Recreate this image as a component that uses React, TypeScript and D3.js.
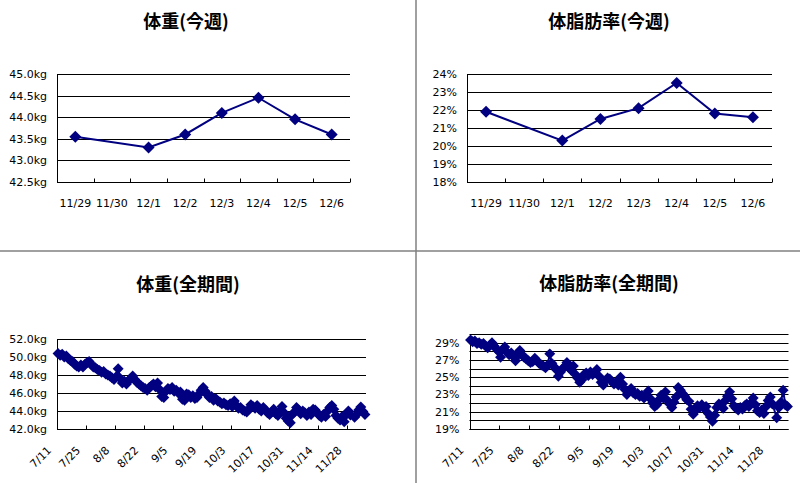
import React, { useEffect, useRef } from "react";
import * as d3 from "d3";

// this week
const weekDays = ["11/29", "11/30", "12/1", "12/2", "12/3", "12/4", "12/5", "12/6"];
const weekWeight = [43.55, null, 43.3, 43.6, 44.1, 44.45, 43.95, 43.6];
const weekFat = [21.9, null, 20.3, 21.5, 22.1, 23.5, 21.8, 21.6];

const weekWeightTicks = [42.5, 43, 43.5, 44, 44.5, 45];
const weekFatTicks = [18, 19, 20, 21, 22, 23, 24];

// whole period, one value per day from 7/11 to 12/6
const allWeight = [
  50.4, 50.2, 50.3, 50.0, 50.1, 49.8, 49.6, 49.5, 49.2, 49.0,
  48.9, 49.1, 48.9, 49.2, 49.4, 49.5, 49.2, 48.9, 48.8, 48.6,
  48.5, 48.3, 48.4, 48.1, 48.0, 47.9, 47.7, 47.5, 47.8, 48.7,
  47.6, 47.1, 47.3, 47.0, 47.4, 47.6, 47.9, 47.5, 47.2, 47.0,
  46.8, 46.6, 46.5, 46.3, 46.6, 46.8, 47.0, 46.7, 47.1, 46.4,
  45.6, 45.5, 46.2, 46.5, 46.4, 46.6, 46.2, 46.3, 46.0, 46.1,
  45.3, 45.2, 45.9, 45.8, 45.5, 45.7, 45.4, 45.5, 45.9, 46.3,
  46.6, 46.2, 45.8, 45.5, 45.6, 45.2, 45.4, 45.1, 45.0, 44.8,
  44.9, 44.7, 44.6, 44.8, 44.5, 45.1, 44.6, 44.3, 44.4, 44.1,
  44.0, 43.9, 44.2, 44.7, 44.5, 44.3, 44.6, 44.2, 44.0, 44.4,
  44.1, 43.8, 43.6, 43.9, 44.2, 43.7, 43.5, 44.0, 44.5, 43.8,
  43.2, 42.9, 42.7, 43.6, 43.9, 44.4, 44.1, 43.7, 44.0, 43.8,
  43.5, 43.9, 43.6, 44.2, 44.1, 43.8, 43.5, 43.3, 43.6, 43.4,
  44.0, 44.4, 44.6, 44.2, 43.5, 43.2, 43.0, 43.4, 42.8, 43.6,
  44.0, 43.55, null, 43.3, 43.6, 44.1, 44.45, 43.95, 43.6,
];

const allFat = [
  29.3, 29.1, 29.2, 28.9, 29.0, 28.8, 28.9, 28.6, 28.4, 28.7,
  29.0, 28.6, 28.3, 28.0, 27.3, 28.2, 28.5, 27.9, 27.6, 27.8,
  27.4, 26.9, 27.5, 28.1, 27.6, 27.3, 27.1, 26.9, 26.7, 26.8,
  27.2, 26.9, 26.6, 26.4, 26.3, 26.1, 26.4, 27.7, 26.6, 26.2,
  25.9, 25.1, 25.6, 26.0, 26.2, 26.7, 26.1, 25.8, 26.3, 25.3,
  24.9, 24.4, 24.7, 25.3, 25.5, 25.2, 25.6, 25.3, 25.5, 25.9,
  25.1, 24.4, 24.1, 24.6, 24.9, 24.8, 24.5, 24.2, 24.4, 24.1,
  25.0, 24.2, 23.6, 23.0, 23.4, 23.7, 23.2, 23.0, 23.1, 22.8,
  22.9, 22.6, 23.0, 23.4, 22.5, 22.0, 21.6, 21.8, 22.4, 22.9,
  22.6, 23.3, 22.3, 21.9, 21.5, 22.1, 22.7, 23.8, 23.5, 23.1,
  22.8, 22.4, 22.2, 21.3, 20.7, 21.1, 21.7, 21.5, 21.8, 21.4,
  21.6, 20.8, 20.4, 19.9, 20.6, 21.5, 21.9, 21.7, 21.4, 22.3,
  22.8, 23.3, 22.5, 21.7, 21.4, 21.2, 21.5, 21.3, 21.7, 21.9,
  21.6, 22.0, 22.6, 21.8, 21.1, 20.9, 21.2, 20.8, 21.6, 22.3,
  22.7, 21.9, null, 20.3, 21.5, 22.1, 23.5, 21.8, 21.6,
];

const allWeightTicks = [42, 44, 46, 48, 50, 52];
const allFatTicks = [19, 21, 23, 25, 27, 29];
const allFatGrid = [19, 20, 21, 22, 23, 24, 25, 26, 27, 28, 29, 30];
const allDateLabels = ["7/11", "7/25", "8/8", "8/22", "9/5", "9/19", "10/3", "10/17", "10/31", "11/14", "11/28"];

const fmtDay = d3.timeFormat("%-m/%-d");
const allDays = d3.timeDay.range(new Date(2010, 6, 11), new Date(2010, 11, 7)).map(fmtDay);

const NAVY = "#000080";
const LABEL_FONT = "'DejaVu Sans', Verdana, sans-serif";
const TITLE_FONT = "'Noto Sans CJK JP', sans-serif";

function drawPanel(svg, p) {
  const g = svg.append("g");
  const x = d3.scaleBand().domain(p.categories).range([p.left, p.right]);
  const y = d3.scaleLinear().domain(p.yDomain).range([p.bottom, p.top]);
  const crisp = (v) => Math.round(v) + 0.5;

  g.append("text")
    .attr("x", p.titleX)
    .attr("y", p.titleY)
    .attr("text-anchor", "middle")
    .attr("dominant-baseline", "central")
    .attr("font-family", TITLE_FONT)
    .attr("font-weight", "bold")
    .attr("font-size", 18)
    .attr("fill", "#000")
    .text(p.title);

  g.selectAll(".grid")
    .data(p.grid)
    .join("line")
    .attr("x1", p.left)
    .attr("x2", p.right)
    .attr("y1", (d) => crisp(y(d)))
    .attr("y2", (d) => crisp(y(d)))
    .attr("stroke", "#000")
    .attr("stroke-width", 1);

  g.selectAll(".ylab")
    .data(p.yTicks)
    .join("text")
    .attr("x", p.left - 10)
    .attr("y", (d) => y(d))
    .attr("dy", "0.36em")
    .attr("text-anchor", "end")
    .attr("font-family", LABEL_FONT)
    .attr("font-size", 11)
    .attr("fill", "#000")
    .text(p.yFormat);

  // axes
  g.append("line")
    .attr("x1", crisp(p.left)).attr("x2", crisp(p.left))
    .attr("y1", p.top).attr("y2", crisp(p.bottom))
    .attr("stroke", "#000");
  g.append("line")
    .attr("x1", p.left).attr("x2", p.right)
    .attr("y1", crisp(p.bottom)).attr("y2", crisp(p.bottom))
    .attr("stroke", "#000");

  g.selectAll(".tick")
    .data(p.tickPositions(x))
    .join("line")
    .attr("x1", (d) => crisp(d))
    .attr("x2", (d) => crisp(d))
    .attr("y1", crisp(p.bottom) - 4)
    .attr("y2", crisp(p.bottom))
    .attr("stroke", "#000");

  const cx = (d) => x(d) + x.bandwidth() / 2;

  if (p.rotate) {
    g.selectAll(".xlab")
      .data(p.xLabels)
      .join("text")
      .attr("transform", (d) => `translate(${cx(d) - 6}, ${p.bottom + 22}) rotate(-45)`)
      .attr("text-anchor", "end")
      .attr("font-family", LABEL_FONT)
      .attr("font-size", 11)
      .attr("fill", "#000")
      .text((d) => d);
  } else {
    g.selectAll(".xlab")
      .data(p.xLabels)
      .join("text")
      .attr("x", (d) => cx(d))
      .attr("y", p.bottom + 25)
      .attr("text-anchor", "middle")
      .attr("font-family", LABEL_FONT)
      .attr("font-size", 11)
      .attr("fill", "#000")
      .text((d) => d);
  }

  const pts = p.categories
    .map((c, i) => ({ c, v: p.values[i] }))
    .filter((d) => d.v != null);

  const line = d3.line().x((d) => cx(d.c)).y((d) => y(d.v));
  g.append("path")
    .datum(pts)
    .attr("fill", "none")
    .attr("stroke", NAVY)
    .attr("stroke-width", 2)
    .attr("d", line);

  const marker = d3.symbol(d3.symbolSquare, p.markerArea)();
  g.selectAll(".pt")
    .data(pts)
    .join("path")
    .attr("d", marker)
    .attr("transform", (d) => `translate(${cx(d.c)}, ${y(d.v)}) rotate(45)`)
    .attr("fill", NAVY);
}

export default function App() {
  const ref = useRef(null);

  useEffect(() => {
    const svg = d3.select(ref.current);
    svg.selectAll("*").remove();

    svg.append("rect").attr("width", 800).attr("height", 483).attr("fill", "#fff");

    const weekTicks = (x) => [...weekDays.map((d) => x(d)), x.range()[1]];
    const allTicks = (x) => allDateLabels.slice(1).map((d) => x(d));

    drawPanel(svg, {
      title: "体重(今週)", titleX: 186, titleY: 20,
      left: 57, right: 350, top: 74, bottom: 182,
      categories: weekDays, values: weekWeight,
      yDomain: [42.5, 45], yTicks: weekWeightTicks, grid: weekWeightTicks,
      yFormat: (d) => d3.format(".1f")(d) + "kg",
      xLabels: weekDays, tickPositions: weekTicks, rotate: false, markerArea: 72,
    });

    drawPanel(svg, {
      title: "体脂肪率(今週)", titleX: 609, titleY: 20,
      left: 467, right: 772, top: 74, bottom: 182,
      categories: weekDays, values: weekFat,
      yDomain: [18, 24], yTicks: weekFatTicks, grid: weekFatTicks,
      yFormat: (d) => d + "%",
      xLabels: weekDays, tickPositions: weekTicks, rotate: false, markerArea: 72,
    });

    drawPanel(svg, {
      title: "体重(全期間)", titleX: 188, titleY: 283,
      left: 57, right: 366, top: 339, bottom: 429,
      categories: allDays, values: allWeight,
      yDomain: [42, 52], yTicks: allWeightTicks, grid: allWeightTicks,
      yFormat: (d) => d3.format(".1f")(d) + "kg",
      xLabels: allDateLabels, tickPositions: allTicks, rotate: true, markerArea: 60,
    });

    drawPanel(svg, {
      title: "体脂肪率(全期間)", titleX: 609, titleY: 282,
      left: 469.5, right: 788.5, top: 334, bottom: 429,
      categories: allDays, values: allFat,
      yDomain: [19, 30], yTicks: allFatTicks, grid: allFatGrid,
      yFormat: (d) => d + "%",
      xLabels: allDateLabels, tickPositions: allTicks, rotate: true, markerArea: 60,
    });

    // panel separators
    svg.append("line")
      .attr("x1", 416).attr("x2", 416).attr("y1", 0).attr("y2", 483)
      .attr("stroke", "#808080").attr("stroke-width", 1.5);
    svg.append("line")
      .attr("x1", 0).attr("x2", 800).attr("y1", 251).attr("y2", 251)
      .attr("stroke", "#808080").attr("stroke-width", 1.5);
  }, []);

  return (
    <svg
      ref={ref}
      width={800}
      height={483}
      style={{ position: "absolute", left: 0, top: 0, display: "block" }}
    />
  );
}
